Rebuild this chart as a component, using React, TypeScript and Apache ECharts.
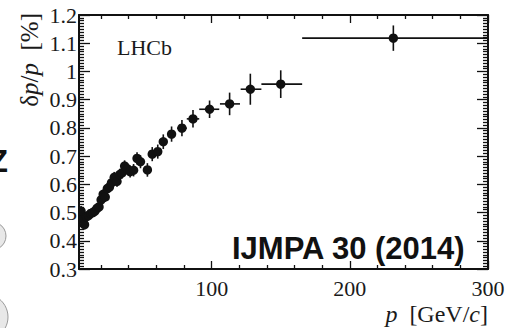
import React, { useEffect, useRef } from "react";
import * as echarts from "echarts";

// momentum bin centres [GeV/c]
const pValues = [5.5, 7, 8, 9.5, 11, 12.5, 14, 15.5, 17, 18.5, 20, 21.5, 23, 24.5, 26, 27.5, 29.5, 31.5, 33.5, 35, 37, 39, 41, 43.5, 46, 48.5, 53.5, 57, 61, 65, 71, 78.5, 86.5, 98.5, 113, 128, 150, 231.5];
// bin edges
const pLow = [4.8, 6.3, 7.3, 8.7, 10.2, 11.7, 13.2, 14.7, 16.2, 17.7, 19.2, 20.7, 22.2, 23.7, 25.2, 26.6, 28.5, 30.5, 32.5, 34, 36, 38, 40, 42.3, 44.8, 47.3, 51.5, 55, 59, 62.5, 68, 75, 82, 91, 106, 121, 136, 165.5];
const pHigh = [6.2, 7.7, 8.7, 10.3, 11.8, 13.3, 14.8, 16.3, 17.8, 19.3, 20.8, 22.3, 23.8, 25.3, 26.8, 28.4, 30.5, 32.5, 34.5, 36, 38, 40, 42, 44.7, 47.2, 49.7, 55.5, 59, 63, 67.5, 74, 82, 91, 105.5, 120.5, 136, 165.5, 300];
// momentum resolution delta p / p [%]
const resValues = [0.505, 0.475, 0.457, 0.485, 0.49, 0.497, 0.5, 0.505, 0.515, 0.52, 0.545, 0.565, 0.555, 0.585, 0.59, 0.605, 0.625, 0.61, 0.635, 0.64, 0.665, 0.655, 0.645, 0.65, 0.692, 0.68, 0.651, 0.707, 0.716, 0.751, 0.778, 0.799, 0.832, 0.866, 0.885, 0.937, 0.955, 1.118];
const resErr = [0.018, 0.017, 0.017, 0.017, 0.016, 0.016, 0.016, 0.016, 0.016, 0.016, 0.017, 0.017, 0.017, 0.018, 0.018, 0.018, 0.019, 0.019, 0.02, 0.02, 0.02, 0.021, 0.021, 0.022, 0.022, 0.023, 0.024, 0.025, 0.025, 0.026, 0.027, 0.029, 0.031, 0.031, 0.04, 0.055, 0.049, 0.045];

const X_MIN = 4;
const X_MAX = 300;
const xMajorTicks = [100, 200, 300];
const xMinorTicks = [20, 40, 60, 80, 120, 140, 160, 180, 220, 240, 260, 280];
const Y_MIN = 0.3;
const Y_MAX = 1.2;

const SERIF = "'Liberation Serif', 'DejaVu Serif', serif";
const SANS = "'Liberation Sans', Arial, sans-serif";
const INK = "#111";

export default function App() {
  const ref = useRef<HTMLDivElement>(null);
  useEffect(() => {
    document.body.style.margin = "0";
    const chart = echarts.init(ref.current!, null, { renderer: "svg" });
    const data = pValues.map((p, i) => [p, resValues[i], pLow[i], pHigh[i], resErr[i]]);
    const lineStyle = { color: INK, width: 2 };
    const tickStyle = { color: INK, width: 1.3 };
    const xBase = { type: "value", min: X_MIN, max: X_MAX, splitLine: { show: false } };
    const yBase = {
      type: "value",
      min: Y_MIN,
      max: Y_MAX,
      interval: 0.1,
      splitLine: { show: false },
      axisLine: { show: true, lineStyle },
      axisTick: { show: true, inside: true, length: 11, lineStyle: tickStyle },
      minorTick: { show: true, splitNumber: 10, length: 5, lineStyle: tickStyle },
    };
    chart.setOption({
      animation: false,
      backgroundColor: "#fff",
      grid: { left: 79, right: 20, top: 15, bottom: 59, containLabel: false },
      xAxis: [
        {
          ...xBase,
          position: "bottom",
          axisLine: { show: true, lineStyle },
          axisTick: { show: true, inside: true, length: 8, customValues: xMajorTicks, lineStyle: tickStyle },
          axisLabel: {
            customValues: xMajorTicks,
            fontFamily: SERIF,
            fontSize: 22,
            color: "#1a1a1a",
            margin: 8,
          },
        },
        {
          ...xBase,
          position: "bottom",
          axisLine: { show: false },
          axisTick: { show: true, inside: true, length: 4, customValues: xMinorTicks, lineStyle: tickStyle },
          axisLabel: { show: false },
        },
        {
          ...xBase,
          position: "top",
          axisLine: { show: true, lineStyle },
          axisTick: { show: true, inside: true, length: 8, customValues: xMajorTicks, lineStyle: tickStyle },
          axisLabel: { show: false },
        },
        {
          ...xBase,
          position: "top",
          axisLine: { show: false },
          axisTick: { show: true, inside: true, length: 4, customValues: xMinorTicks, lineStyle: tickStyle },
          axisLabel: { show: false },
        },
      ],
      yAxis: [
        {
          ...yBase,
          position: "left",
          axisLabel: {
            fontFamily: SERIF,
            fontSize: 22,
            color: "#1a1a1a",
            margin: 2,
            formatter: (v: number) => String(Number(v.toFixed(2))),
          },
        },
        {
          ...yBase,
          position: "right",
          axisLabel: { show: false },
        },
      ],
      series: [
        {
          type: "custom",
          xAxisIndex: 0,
          yAxisIndex: 0,
          clip: true,
          data,
          renderItem: (params: any, api: any) => {
            const p = api.value(0);
            const v = api.value(1);
            const lo = api.value(2);
            const hi = api.value(3);
            const e = api.value(4);
            const c = api.coord([p, v]);
            const l = api.coord([lo, v]);
            const r = api.coord([hi, v]);
            const t = api.coord([p, v + e]);
            const b = api.coord([p, v - e]);
            const st = { stroke: INK, lineWidth: 1.6 };
            return {
              type: "group",
              children: [
                { type: "line", shape: { x1: l[0], y1: c[1], x2: r[0], y2: c[1] }, style: st },
                { type: "line", shape: { x1: c[0], y1: t[1], x2: c[0], y2: b[1] }, style: st },
                { type: "circle", shape: { cx: c[0], cy: c[1], r: 4.7 }, style: { fill: INK } },
              ],
            };
          },
        },
      ],
      graphic: [
        {
          type: "text",
          x: 29,
          y: 13,
          rotation: Math.PI / 2,
          style: {
            text: "{n|δ}{i|p}{n|/}{i|p}{n|  [%]}",
            align: "right",
            verticalAlign: "middle",
            rich: {
              n: { fontFamily: SERIF, fontSize: 25, fill: "#1a1a1a" },
              i: { fontFamily: SERIF, fontSize: 25, fontStyle: "italic", fill: "#1a1a1a" },
            },
          },
        },
        {
          type: "text",
          x: 488,
          y: 314,
          style: {
            text: "{i|p}{n|  [GeV/}{i|c}{n|]}",
            align: "right",
            verticalAlign: "middle",
            rich: {
              n: { fontFamily: SERIF, fontSize: 24, fill: "#1a1a1a" },
              i: { fontFamily: SERIF, fontSize: 24, fontStyle: "italic", fill: "#1a1a1a" },
            },
          },
        },
        {
          type: "text",
          x: 117,
          y: 47,
          style: {
            text: "LHCb",
            fontFamily: SERIF,
            fontSize: 22,
            fill: "#1a1a1a",
            align: "left",
            verticalAlign: "middle",
          },
        },
        {
          type: "text",
          x: 232,
          y: 248,
          style: {
            text: "IJMPA 30 (2014)",
            fontFamily: SANS,
            fontWeight: "bold",
            fontSize: 31,
            fill: "#111",
            align: "left",
            verticalAlign: "middle",
          },
        },
        {
          type: "text",
          x: 8,
          y: 161,
          style: {
            text: "Z",
            fontFamily: SANS,
            fontWeight: "bold",
            fontSize: 31,
            fill: "#111",
            align: "right",
            verticalAlign: "middle",
          },
        },
        {
          type: "circle",
          shape: { cx: -8, cy: 236, r: 14 },
          style: { fill: "#e8e8e8", stroke: "#9a9a9a", lineWidth: 1 },
        },
        {
          type: "circle",
          shape: { cx: -15, cy: 317, r: 23 },
          style: { fill: "#e8e8e8", stroke: "#9a9a9a", lineWidth: 1 },
        },
      ],
    });
    return () => chart.dispose();
  }, []);
  return <div ref={ref} style={{ width: 508, height: 328 }} />;
}
